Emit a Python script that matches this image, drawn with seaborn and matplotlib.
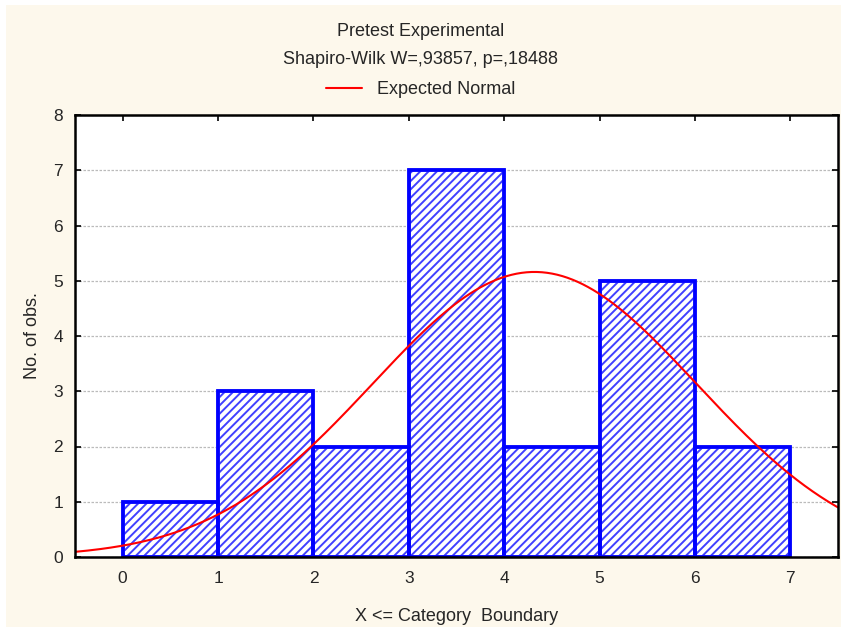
import numpy as np
import pandas as pd
import matplotlib
matplotlib.use("Agg")
import matplotlib.pyplot as plt
import seaborn as sns
from matplotlib.patches import Rectangle
from matplotlib.lines import Line2D

# Data
boundaries = [1, 2, 3, 4, 5, 6, 7]          # upper category boundary (X <= boundary)
counts = [1, 3, 2, 7, 2, 5, 2]
bin_edges = [0, 1, 2, 3, 4, 5, 6, 7]
xticks = [0, 1, 2, 3, 4, 5, 6, 7]
yticks = [0, 1, 2, 3, 4, 5, 6, 7, 8]
title1 = "Pretest Experimental"
title2 = "Shapiro-Wilk W=,93857, p=,18488"
legend_label = "Expected Normal"

sns.set_theme(style="white")
plt.rcParams['font.family'] = ['Liberation Sans', 'DejaVu Sans']
plt.rcParams['hatch.linewidth'] = 1.4

FS = 12.5
FT = 13
fig = plt.figure(figsize=(8.41, 6.32), dpi=100, facecolor="white")
fig.patches.append(Rectangle((6/841, 5/632), 835/841, 622/632, transform=fig.transFigure,
                             facecolor="#FDF8EC", edgecolor="none", zorder=-10))
ax = fig.add_axes([75/841, 1-557/632, (838-75)/841, (557-115)/632])
ax.set_facecolor("white")

df = pd.DataFrame({"mid": [b - 0.5 for b in boundaries], "n": counts})
sns.histplot(data=df, x="mid", weights="n", bins=bin_edges, ax=ax,
             color="white", edgecolor="#0000FF", linewidth=2.6, alpha=1, zorder=2)
for p in ax.patches:
    p.set_hatch("////")
    p.set_facecolor("white")
    p.set_edgecolor("#4040FF")

# outline redrawn in pure blue on top of the hatch
for p in list(ax.patches):
    x0, y0 = p.get_x(), p.get_y()
    ax.add_patch(Rectangle((x0, y0), p.get_width(), p.get_height(), facecolor="none",
                           edgecolor="#0000FF", linewidth=2.6, zorder=3))

# expected normal curve fitted to the data (values = boundaries)
vals = np.repeat(boundaries, counts)
mu, sd = vals.mean(), vals.std(ddof=1)
N = len(vals)
xs = np.linspace(-0.5, 7.5, 300)
ys = N * 1.0 / (sd * np.sqrt(2 * np.pi)) * np.exp(-0.5 * ((xs - mu) / sd) ** 2)
sns.lineplot(x=xs, y=ys, ax=ax, color="#FF0000", linewidth=1.5, zorder=4, legend=False)

ax.set_xlim(-0.5, 7.5)
ax.set_ylim(0, 8)
ax.set_xticks(xticks)
ax.set_yticks(yticks)
ax.yaxis.grid(True, color="#BBBBBB", linestyle=(0, (2, 1.2)), linewidth=0.9, zorder=0)
ax.set_axisbelow(True)
for s in ax.spines.values():
    s.set_visible(True)
    s.set_color("black")
    s.set_linewidth(1.8)
    s.set_zorder(5)
ax.tick_params(axis="y", which="both", left=True, right=True, direction="in",
               length=4, width=1.2, color="black", labelsize=FS, pad=8.5)
ax.tick_params(axis="x", which="both", bottom=False, top=True, direction="in",
               length=4, width=1.2, color="black", labelsize=FS, pad=10)
ax.set_xlabel("X <= Category  Boundary", fontsize=FT, labelpad=16)
ax.set_ylabel("No. of obs.", fontsize=FT, labelpad=9)

fig.text(0.5, 1-31/632, title1, ha="center", va="center", fontsize=FT)
fig.text(0.5, 1-60/632, title2, ha="center", va="center", fontsize=FT)
handle = Line2D([], [], color="#FF0000", linewidth=1.5)
fig.legend([handle], [legend_label], loc="center", bbox_to_anchor=(0.5, 1-90/632),
           frameon=False, fontsize=FT, handlelength=2.0, handletextpad=0.8)

fig.savefig("out.png", dpi=100, facecolor=fig.get_facecolor())
